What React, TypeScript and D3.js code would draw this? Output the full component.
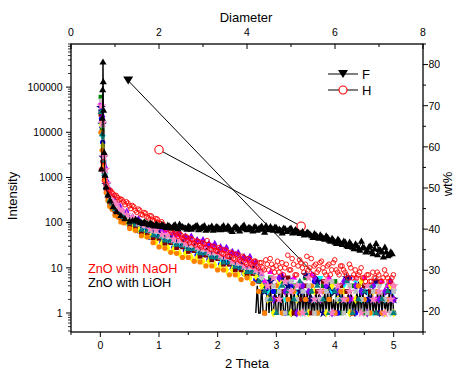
import React from "react";
import * as d3 from "d3";

const WIDTH = 454;
const HEIGHT = 371;

// ---- axis ticks ----
const thetaMajor = [0, 1, 2, 3, 4, 5];
const thetaMinor = [-0.5, 0.5, 1.5, 2.5, 3.5, 4.5, 5.5];
const intensityMajor = [1, 10, 100, 1000, 10000, 100000];
const diameterMajor = [0, 2, 4, 6, 8];
const diameterMinor = [1, 3, 5, 7];
const wtMajor = [20, 30, 40, 50, 60, 70, 80];
const wtMinor = [15, 25, 35, 45, 55, 65, 75, 85];

// ---- 2 Theta sampling grids ----
const gridA = [0.01, 0.03, 0.05, 0.07, 0.1, 0.13, 0.16, 0.2, 0.25, 0.3, 0.35, 0.4,
  0.5, 0.6, 0.7, 0.8, 0.9, 1.0, 1.1, 1.2, 1.3, 1.4, 1.5, 1.6, 1.7, 1.8, 1.9, 2.0,
  2.1, 2.2, 2.3, 2.4, 2.5, 2.6, 2.7, 2.8, 2.9, 3.0, 3.1, 3.2, 3.3, 3.4, 3.5, 3.6,
  3.7, 3.8, 3.9, 4.0, 4.1, 4.2, 4.3, 4.4, 4.5, 4.6, 4.7, 4.8, 4.9, 5.0];
const gridB = [0.02, 0.04, 0.06, 0.085, 0.115, 0.145, 0.18, 0.225, 0.275, 0.325, 0.375, 0.45,
  0.55, 0.65, 0.75, 0.85, 0.95, 1.05, 1.15, 1.25, 1.35, 1.45, 1.55, 1.65, 1.75, 1.85, 1.95,
  2.05, 2.15, 2.25, 2.35, 2.45, 2.55, 2.65, 2.75, 2.85, 2.95, 3.05, 3.15, 3.25, 3.35, 3.45,
  3.55, 3.65, 3.75, 3.85, 3.95, 4.05, 4.15, 4.25, 4.35, 4.45, 4.55, 4.65, 4.75, 4.85, 4.95, 5.0];

// ---- intensity series (many samples) ----
const s1Green = [60000, 12000, 2600, 1250, 640, 470, 320, 290, 200, 195, 145, 150, 100, 98, 70, 72, 52, 56, 40, 44, 32, 36, 27, 29, 21, 24, 17, 19, 13, 15, 10, 11, 8, 9,
  7, 4, 6, 3, 5, 1, 4, 2, 6, 3, 1, 4, 2, 5, 1, 3, 4, 2, 1, 3, 5, 2, 4, 1];
const s2Blue = [20000, 6000, 2000, 1000, 520, 330, 290, 200, 185, 135, 135, 100, 95, 66, 66, 47, 50, 37, 38, 28, 31, 24, 25, 19, 20, 15, 17, 12, 13, 9.5, 10, 7.5, 7.5, 5.5,
  5, 2, 3, 6, 1, 4, 2, 3, 1, 5, 2, 4, 3, 1, 2, 6, 1, 3, 2, 4, 1, 2, 3, 1];
const s3Magenta = [45000, 18000, 3000, 1600, 780, 540, 390, 340, 245, 230, 178, 170, 125, 115, 86, 84, 75, 66, 64, 53, 52, 44, 44, 36, 37, 30, 30, 25, 25, 20, 20, 16, 15, 13,
  9, 5, 8, 4, 7, 3, 6, 4, 2, 7, 5, 3, 6, 1, 4, 5, 2, 4, 6, 3, 2, 5, 4, 2];
const s4Cyan = [30000, 8000, 2200, 1150, 590, 370, 320, 230, 200, 155, 148, 115, 105, 76, 73, 55, 55, 42, 42, 33, 34, 27, 28, 22, 22, 18, 18, 14, 15, 11, 11, 8.5, 8.5, 6.5,
  6, 3, 1, 4, 2, 5, 3, 1, 4, 2, 6, 1, 3, 2, 4, 1, 5, 2, 3, 1, 4, 2, 1, 3];
const s5Navy = [35000, 15000, 2800, 1450, 700, 500, 360, 310, 228, 208, 165, 156, 116, 104, 80, 76, 60, 58, 47, 45, 37, 37, 31, 30, 24, 24, 20, 20, 15, 16, 12, 12, 9.5, 10,
  8, 3, 5, 2, 6, 4, 1, 3, 7, 2, 5, 1, 4, 3, 2, 6, 1, 4, 3, 2, 5, 1, 3, 2];
const s6Yellow = [15000, 5000, 1900, 950, 490, 330, 245, 205, 155, 140, 114, 104, 79, 71, 55, 51, 38, 34, 28, 26, 21, 21, 17, 17, 14, 14, 11.5, 11, 9, 9, 7, 7.5, 6, 6.5,
  4, 2, 1, 5, 3, 1, 2, 4, 1, 3, 2, 1, 4, 2, 3, 1, 2, 5, 1, 3, 2, 1, 4, 1];
const s7Wine = [25000, 10000, 2100, 1100, 560, 380, 280, 240, 178, 156, 128, 120, 88, 82, 61, 59, 46, 45, 35, 36, 28, 29, 23, 24, 18, 19, 15, 16, 12, 12, 9, 9, 7, 7.5,
  5, 1, 4, 2, 3, 6, 1, 2, 4, 1, 3, 5, 2, 1, 4, 3, 1, 2, 4, 3, 1, 2, 3, 2];
const s8Violet = [40000, 22000, 3200, 1650, 800, 560, 405, 345, 255, 235, 183, 172, 130, 117, 91, 84, 78, 72, 71, 57, 58, 48, 48, 40, 40, 33, 33, 28, 27, 22, 21, 17, 17, 13,
  7, 4, 2, 6, 3, 5, 1, 4, 3, 6, 2, 4, 1, 3, 5, 2, 4, 3, 1, 4, 2, 3, 5, 2];
const s9Orange = [10000, 4000, 1800, 900, 460, 310, 232, 198, 145, 133, 104, 99, 74, 67, 51, 48, 36, 29, 27, 22, 21, 17, 17, 14, 13.5, 11, 11, 9, 9, 7, 7, 5.5, 6, 4.5,
  3, 1, 2, 4, 1, 2, 3, 1, 2, 4, 1, 3, 2, 1, 3, 2, 1, 4, 2, 1, 3, 1, 2, 4];
const s10Gray = [50000, 14000, 2600, 1350, 670, 440, 365, 275, 235, 182, 170, 136, 120, 92, 84, 65, 63, 50, 48, 39, 39, 32, 31, 26, 25, 21, 21, 17, 17, 13, 12.5, 10, 10, 8,
  6, 2, 4, 3, 1, 5, 2, 3, 4, 1, 2, 3, 5, 2, 1, 4, 3, 2, 1, 3, 4, 2, 1, 3];
const s11Teal = [28000, 9000, 2400, 1200, 610, 420, 310, 265, 197, 177, 142, 133, 100, 90, 69, 65, 52, 49, 40, 39, 32, 31, 26, 26, 21, 21, 17, 17, 13, 13, 10.5, 10, 8, 8,
  5, 3, 2, 1, 4, 3, 2, 5, 1, 3, 4, 2, 1, 3, 2, 5, 1, 2, 3, 4, 1, 2, 3, 1];
const s12Pink = [38000, 16000, 2900, 1500, 740, 480, 405, 298, 255, 197, 185, 149, 131, 100, 91, 72, 69, 55, 53, 43, 42, 35, 34, 29, 27, 23, 23, 19, 18, 14, 13.5, 11, 11, 9,
  8, 4, 6, 2, 5, 3, 4, 1, 6, 2, 3, 5, 1, 4, 2, 3, 6, 1, 4, 2, 3, 1, 2, 4];

// black line-connected series in the tail (2 Theta from 2.65, step 0.025)
const blackLineStart = 2.65;
const blackLineStep = 0.025;
const blackLineY = [1, 4, 1, 1, 4, 1, 1, 1, 4, 1, 4, 1, 1,
  3, 1, 1, 4, 1, 3, 1, 1, 4, 1, 1, 3, 1, 4, 1, 1, 3, 1, 4, 1, 3, 1,
  3, 1, 3, 1, 2, 1, 3, 1, 3, 1,
  2, 1, 3, 1, 3, 1, 3, 1, 2, 1,
  3, 1, 3, 1, 3, 1, 2, 1, 3, 1,
  3, 1, 2, 1, 3, 1, 3, 1, 3, 1,
  2, 1, 3, 1, 3, 1, 2, 1, 3, 1,
  3, 1, 3, 1, 2, 1, 3, 1, 3, 1];

// ZnO with LiOH (black triangles)
const blackPeakX = [0.02, 0.035, 0.04, 0.045, 0.05, 0.055, 0.065, 0.08, 0.1, 0.13, 0.17, 0.22, 0.28, 0.35, 0.42, 0.5, 0.55];
const blackPeakY = [1500, 20000, 86000, 350000, 129000, 30000, 3500, 1100, 600, 400, 300, 220, 170, 140, 120, 105, 110];
const blackMainStart = 0.6;
const blackMainStep = 0.05;
const blackMainY = [115, 105, 98, 102, 92, 95, 86, 90, 84,
  88, 80, 86, 78, 84, 76, 90, 80, 74, 82,
  70, 78, 85, 72, 80, 66, 76, 82, 70, 78,
  68, 84, 72, 76, 62, 80, 70, 74, 86, 68,
  76, 64, 78, 72, 82, 60, 74, 80, 66, 76,
  70, 58, 72, 66, 74, 60, 64, 56, 62, 54,
  58, 50, 56, 48, 52, 44, 50, 40, 44, 36,
  42, 34, 38, 30, 36, 28, 33, 26, 38, 27,
  24, 30, 20, 34, 25, 22, 28, 18, 22];
const blackMain2Start = 0.625;
const blackMainY2 = [108, 100, 94, 96, 88, 92, 82, 86, 80,
  84, 76, 82, 74, 88, 72, 80, 76, 70, 78,
  74, 82, 68, 76, 84, 70, 74, 66, 80, 72,
  78, 70, 82, 66, 74, 78, 64, 80, 72, 76,
  70, 80, 66, 76, 70, 84, 68, 72, 78, 64,
  66, 74, 62, 70, 58, 68, 60, 58, 52, 60,
  54, 46, 52, 44, 48, 42, 46, 38, 40, 34,
  38, 32, 36, 29, 32, 26, 30, 24, 28, 22,
  28, 22, 26, 19, 24, 17, 22, 19, 20];

// ZnO with NaOH (red open circles), two interleaved sample sets
const redStart = 0.02;
const red2Start = 0.045;
const redStep = 0.05;
const redY = [1500, 850, 560, 520, 430, 400, 320, 320, 250, 270,
  205, 225, 170, 190, 148, 162, 127, 140, 110, 120,
  96, 92, 72, 78, 60, 64, 50, 54, 42, 48,
  36, 42, 32, 38, 29, 34, 40, 26, 30, 24,
  28, 21, 25, 18, 22, 16, 20, 15, 18, 13,
  16, 12, 14, 11, 13, 10, 15, 9, 12, 8,
  14, 10, 7, 12, 9, 16, 7, 11, 13, 8,
  18, 10, 7, 12, 9, 14, 8, 11, 7, 13,
  9, 7, 11, 8, 6, 10, 7, 6, 8, 6,
  5, 7, 5, 6, 8, 5, 6, 7, 5, 6];
const redY2 = [2200, 700, 520, 470, 400, 360, 335, 285, 290, 235,
  240, 188, 200, 152, 168, 134, 143, 113, 123, 100,
  105, 80, 82, 66, 70, 56, 58, 46, 50, 40,
  44, 35, 39, 31, 36, 28, 33, 25, 29, 23,
  26, 20, 24, 18, 21, 15, 19, 14, 17, 12,
  15, 11, 14, 10, 13, 9, 12, 16, 10, 11,
  8, 13, 10, 19, 9, 12, 7, 15, 10, 12,
  9, 16, 11, 8, 13, 10, 7, 12, 9, 15,
  8, 11, 9, 7, 12, 6, 9, 7, 10, 6,
  7, 5, 8, 6, 7, 5, 9, 6, 5, 7];

// F and H (Diameter vs wt%)
const fDiameter = [1.3, 5.93];
const fWt = [76.1, 24.6];
const hDiameter = [2.0, 5.23];
const hWt = [59.3, 40.7];

const colorSeries = [
  { values: s1Green, grid: gridA, color: "#008000", shape: "square" },
  { values: s2Blue, grid: gridB, color: "#0000FF", shape: "circle" },
  { values: s3Magenta, grid: gridA, color: "#FF00FF", shape: "triangle" },
  { values: s4Cyan, grid: gridB, color: "#00FFFF", shape: "triangleDown" },
  { values: s5Navy, grid: gridA, color: "#000080", shape: "star" },
  { values: s6Yellow, grid: gridB, color: "#FFFF00", shape: "diamond" },
  { values: s7Wine, grid: gridA, color: "#800000", shape: "square" },
  { values: s8Violet, grid: gridB, color: "#8000FF", shape: "diamond" },
  { values: s9Orange, grid: gridA, color: "#FF8000", shape: "circle" },
  { values: s10Gray, grid: gridB, color: "#C0C0C0", shape: "square" },
  { values: s11Teal, grid: gridA, color: "#008080", shape: "triangle" },
  { values: s12Pink, grid: gridB, color: "#FF80C0", shape: "star" },
];

const FONT = "'Liberation Sans', Arial, Helvetica, sans-serif";

function symbolPath(shape: string): { d: string; rot: number } {
  const gen = d3.symbol();
  switch (shape) {
    case "square": return { d: gen.type(d3.symbolSquare).size(22)() as string, rot: 0 };
    case "circle": return { d: gen.type(d3.symbolCircle).size(22)() as string, rot: 0 };
    case "triangle": return { d: gen.type(d3.symbolTriangle).size(18)() as string, rot: 0 };
    case "triangleDown": return { d: gen.type(d3.symbolTriangle).size(18)() as string, rot: 180 };
    case "star": return { d: gen.type(d3.symbolStar).size(30)() as string, rot: 0 };
    default: return { d: gen.type(d3.symbolDiamond).size(24)() as string, rot: 0 };
  }
}

export default function App() {
  const left = 71, right = 423, top = 44, bottom = 332;
  const x = d3.scaleLinear().domain([-0.5, 5.5]).range([left, right]);
  const xTop = d3.scaleLinear().domain([0, 8]).range([left, right]);
  const y = d3.scaleLog().domain([0.38, 900000]).range([bottom, top]);
  const yR = d3.scaleLinear().domain([15, 85]).range([bottom, top]);

  const intensityMinor: number[] = [];
  for (let k = -1; k <= 5; k++) {
    for (let m = 2; m <= 9; m++) {
      const v = m * Math.pow(10, k);
      if (v >= 0.38 && v <= 900000) intensityMinor.push(v);
    }
  }

  const line = d3.line<[number, number]>();

  const blackLinePts: [number, number][] = blackLineY.map((v, i) => [x(blackLineStart + i * blackLineStep), y(v)]);
  const blackTriPts: [number, number][] = [
    ...blackPeakX.map((bx, i) => [x(bx), y(blackPeakY[i])] as [number, number]),
    ...blackMainY.map((v, i) => [x(blackMainStart + i * blackMainStep), y(v)] as [number, number]),
  ];
  const blackTriPts2: [number, number][] = blackMainY2.map((v, i) => [x(blackMain2Start + i * blackMainStep), y(v)]);
  const redPts: [number, number][] = [
    ...redY.map((v, i) => [x(redStart + i * redStep), y(v)] as [number, number]),
    ...redY2.map((v, i) => [x(red2Start + i * redStep), y(v)] as [number, number]),
  ];
  const fPts: [number, number][] = fDiameter.map((d, i) => [xTop(d), yR(fWt[i])]);
  const hPts: [number, number][] = hDiameter.map((d, i) => [xTop(d), yR(hWt[i])]);

  const triPath = d3.symbol().type(d3.symbolTriangle).size(22)() as string;
  const downTri = (cx: number, cy: number, w: number, h: number) =>
    `M${cx - w / 2},${cy - h / 2}L${cx + w / 2},${cy - h / 2}L${cx},${cy + h / 2}Z`;

  return (
    <svg width={WIDTH} height={HEIGHT} style={{ position: "absolute", left: 0, top: 0, background: "#fff" }}
      fontFamily={FONT}>
      <rect x={0} y={0} width={WIDTH} height={HEIGHT} fill="#fff" />

      {/* F and H series (behind the scans) */}
      <path d={line(fPts) as string} fill="none" stroke="#000" strokeWidth={1} />
      <path d={line(hPts) as string} fill="none" stroke="#000" strokeWidth={1} />
      {fPts.map((p, i) => <path key={"f" + i} d={downTri(p[0], p[1], 10, 8)} fill="#000" />)}
      {hPts.map((p, i) => <circle key={"h" + i} cx={p[0]} cy={p[1]} r={4.2} fill="#fff" stroke="#FF0000" strokeWidth={1.1} />)}

      {/* black connected tail series */}
      <path d={line(blackLinePts) as string} fill="none" stroke="#000" strokeWidth={1.4} />

      {/* coloured scan series */}
      {colorSeries.map((s, si) => {
        const sp = symbolPath(s.shape);
        return (
          <g key={"s" + si} fill={s.color}>
            {s.values.map((v, i) => (
              <path key={i} d={sp.d}
                transform={`translate(${x(s.grid[i])},${y(v)})${sp.rot ? ` rotate(${sp.rot})` : ""}`} />
            ))}
          </g>
        );
      })}

      {/* red open circles */}
      <g fill="none" stroke="#FF0000" strokeWidth={0.9}>
        {redPts.map((p, i) => <circle key={i} cx={p[0]} cy={p[1]} r={2.3} />)}
      </g>

      {/* black triangles with line */}
      <path d={line(blackTriPts) as string} fill="none" stroke="#000" strokeWidth={1} />
      <g fill="#000">
        {blackTriPts.map((p, i) => <path key={i} d={triPath} transform={`translate(${p[0]},${p[1]})`} />)}
        {blackTriPts2.map((p, i) => <path key={"b" + i} d={triPath} transform={`translate(${p[0]},${p[1]})`} />)}
      </g>

      {/* frame */}
      <rect x={left} y={top} width={right - left} height={bottom - top} fill="none" stroke="#000" strokeWidth={1.3} />

      {/* bottom axis */}
      {thetaMajor.map((t) => (
        <g key={"bt" + t}>
          <line x1={x(t)} x2={x(t)} y1={bottom} y2={bottom + 5} stroke="#000" strokeWidth={1} />
          <text x={x(t)} y={349} fontSize={10.5} textAnchor="middle">{t}</text>
        </g>
      ))}
      {thetaMinor.map((t) => (
        <line key={"btm" + t} x1={x(t)} x2={x(t)} y1={bottom} y2={bottom + 3} stroke="#000" strokeWidth={1} />
      ))}

      {/* top axis */}
      {diameterMajor.map((t) => (
        <g key={"tt" + t}>
          <line x1={xTop(t)} x2={xTop(t)} y1={top} y2={top + 5} stroke="#000" strokeWidth={1} />
          <text x={xTop(t)} y={36} fontSize={10.5} textAnchor="middle">{t}</text>
        </g>
      ))}
      {diameterMinor.map((t) => (
        <line key={"ttm" + t} x1={xTop(t)} x2={xTop(t)} y1={top} y2={top + 3} stroke="#000" strokeWidth={1} />
      ))}

      {/* left axis */}
      {intensityMajor.map((t) => (
        <g key={"lt" + t}>
          <line x1={left - 5} x2={left} y1={y(t)} y2={y(t)} stroke="#000" strokeWidth={1} />
          <text x={62.5} y={y(t) + 3.8} fontSize={10.5} textAnchor="end">{t}</text>
        </g>
      ))}
      {intensityMinor.map((t) => (
        <line key={"ltm" + t} x1={left - 3} x2={left} y1={y(t)} y2={y(t)} stroke="#000" strokeWidth={0.8} />
      ))}

      {/* right axis */}
      {wtMajor.map((t) => (
        <g key={"rt" + t}>
          <line x1={right} x2={right + 5} y1={yR(t)} y2={yR(t)} stroke="#000" strokeWidth={1} />
          <text x={428.5} y={yR(t) + 3.8} fontSize={10.5} textAnchor="start">{t}</text>
        </g>
      ))}
      {wtMinor.map((t) => (
        <line key={"rtm" + t} x1={right} x2={right + 3} y1={yR(t)} y2={yR(t)} stroke="#000" strokeWidth={1} />
      ))}

      {/* axis titles */}
      <text x={247} y={368} fontSize={13} textAnchor="middle">2 Theta</text>
      <text x={246} y={22} fontSize={13} textAnchor="middle">Diameter</text>
      <text transform="translate(16.5,196) rotate(-90)" fontSize={13} textAnchor="middle">Intensity</text>
      <text transform="translate(452,184) rotate(-90)" fontSize={13} textAnchor="middle">wt%</text>

      {/* annotations */}
      <text x={88} y={273} fontSize={12.7} fill="#FF0000">ZnO with NaOH</text>
      <text x={88} y={287} fontSize={12.7} fill="#000">ZnO with LiOH</text>

      {/* legend */}
      <line x1={328} x2={358} y1={74} y2={74} stroke="#000" strokeWidth={1} />
      <path d={downTri(343, 74, 10, 8)} fill="#000" />
      <text x={362} y={79} fontSize={13}>F</text>
      <line x1={328} x2={358} y1={90} y2={90} stroke="#000" strokeWidth={1} />
      <circle cx={343} cy={90} r={4} fill="#fff" stroke="#FF0000" strokeWidth={1.1} />
      <text x={362} y={95} fontSize={13}>H</text>
    </svg>
  );
}
